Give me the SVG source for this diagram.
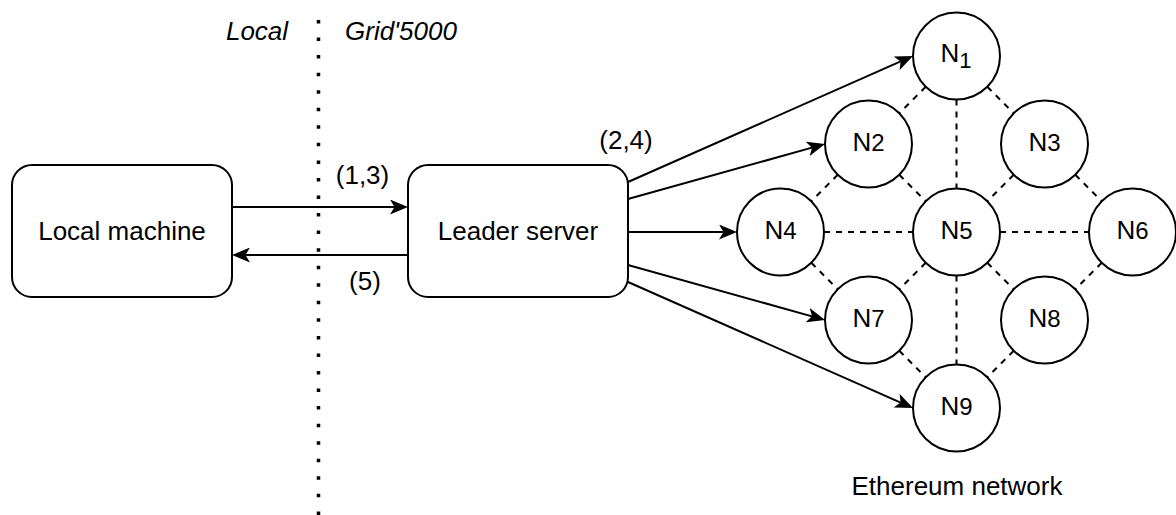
<svg xmlns="http://www.w3.org/2000/svg" width="1176" height="515" viewBox="0 0 1176 515">
<style>
text{font-family:"Liberation Sans",Arial,sans-serif;font-size:26px;fill:#000}
.it{font-style:italic}
.box{fill:#fff;stroke:#000;stroke-width:2}
.node{fill:#fff;stroke:#000;stroke-width:2}
.arrow{stroke:#000;stroke-width:2;fill:none;marker-end:url(#ah)}
.dash{stroke:#000;stroke-width:2;stroke-dasharray:6 6;fill:none}
.dot{stroke:#000;stroke-width:3.5;stroke-dasharray:3.5 14.05;fill:none}
.sub{font-size:24px}
</style>
<defs>
<marker id="ah" markerUnits="userSpaceOnUse" markerWidth="18" markerHeight="15" refX="4.5" refY="7.5" orient="auto" viewBox="0 0 18 15">
<path d="M0,0 L18,7.5 L0,15 L4.5,7.5 Z" fill="#000"/>
</marker>
</defs>
<rect width="1176" height="515" fill="#fff"/>
<g id="divider">
<line class="dot" x1="318.5" y1="20" x2="318.5" y2="515"/>
<text class="it" x="257" y="39.5" text-anchor="middle">Local</text>
<text class="it" x="345" y="39.5">Grid'5000</text>
</g>
<g id="connectors">
<line class="dash" x1="925.74" y1="86.76" x2="899.26" y2="113.24"/>
<line class="dash" x1="987.26" y1="86.76" x2="1013.74" y2="113.24"/>
<line class="dash" x1="956.5" y1="99.5" x2="956.5" y2="188.5"/>
<line class="dash" x1="837.74" y1="174.76" x2="811.26" y2="201.24"/>
<line class="dash" x1="899.26" y1="174.76" x2="925.74" y2="201.24"/>
<line class="dash" x1="1013.74" y1="174.76" x2="987.26" y2="201.24"/>
<line class="dash" x1="1075.26" y1="174.76" x2="1101.74" y2="201.24"/>
<line class="dash" x1="824" y1="232" x2="913" y2="232"/>
<line class="dash" x1="1000" y1="232" x2="1089" y2="232"/>
<line class="dash" x1="811.26" y1="262.76" x2="837.74" y2="289.24"/>
<line class="dash" x1="925.74" y1="262.76" x2="899.26" y2="289.24"/>
<line class="dash" x1="987.26" y1="262.76" x2="1013.74" y2="289.24"/>
<line class="dash" x1="1101.74" y1="262.76" x2="1075.26" y2="289.24"/>
<line class="dash" x1="956.5" y1="275.5" x2="956.5" y2="364.5"/>
<line class="dash" x1="899.26" y1="350.76" x2="925.74" y2="377.24"/>
<line class="dash" x1="1013.74" y1="350.76" x2="987.26" y2="377.24"/>
<line class="arrow" x1="232" y1="207" x2="394.5" y2="207"/>
<line class="arrow" x1="408" y1="255" x2="245.5" y2="255"/>
<line class="arrow" x1="628" y1="182" x2="900.65" y2="61.46"/>
<line class="arrow" x1="628" y1="199" x2="812" y2="147.63"/>
<line class="arrow" x1="628" y1="232" x2="723.5" y2="232"/>
<line class="arrow" x1="628" y1="265" x2="812" y2="316.37"/>
<line class="arrow" x1="628" y1="282" x2="900.65" y2="402.54"/>
<text x="362.5" y="184" text-anchor="middle">(1,3)</text>
<text x="365" y="290" text-anchor="middle">(5)</text>
<text x="626" y="149" text-anchor="middle">(2,4)</text>
</g>
<g id="local-machine">
<rect class="box" x="12" y="165" width="220" height="132" rx="20" ry="20"/>
<text x="122" y="239.5" text-anchor="middle">Local machine</text>
</g>
<g id="leader-server">
<rect class="box" x="408" y="165" width="220" height="132" rx="20" ry="20"/>
<text x="518" y="239.5" text-anchor="middle">Leader server</text>
</g>
<g id="n1"><circle class="node" cx="956.5" cy="56" r="43.5"/><text x="956" y="62" text-anchor="middle">N<tspan font-size="22" dy="6">1</tspan></text></g>
<g id="n2"><circle class="node" cx="868.5" cy="144" r="43.5"/><text x="868.5" y="151" text-anchor="middle">N<tspan class="sub">2</tspan></text></g>
<g id="n3"><circle class="node" cx="1044.5" cy="144" r="43.5"/><text x="1044.5" y="151" text-anchor="middle">N<tspan class="sub">3</tspan></text></g>
<g id="n4"><circle class="node" cx="780.5" cy="232" r="43.5"/><text x="780.5" y="239" text-anchor="middle">N<tspan class="sub">4</tspan></text></g>
<g id="n5"><circle class="node" cx="956.5" cy="232" r="43.5"/><text x="956.5" y="239" text-anchor="middle">N<tspan class="sub">5</tspan></text></g>
<g id="n6"><circle class="node" cx="1132.5" cy="232" r="43.5"/><text x="1132.5" y="239" text-anchor="middle">N<tspan class="sub">6</tspan></text></g>
<g id="n7"><circle class="node" cx="868.5" cy="320" r="43.5"/><text x="868.5" y="327" text-anchor="middle">N<tspan class="sub">7</tspan></text></g>
<g id="n8"><circle class="node" cx="1044.5" cy="320" r="43.5"/><text x="1044.5" y="327" text-anchor="middle">N<tspan class="sub">8</tspan></text></g>
<g id="n9"><circle class="node" cx="956.5" cy="408" r="43.5"/><text x="956.5" y="415" text-anchor="middle">N<tspan class="sub">9</tspan></text></g>
<g id="ethereum-label"><text x="957" y="494.5" text-anchor="middle">Ethereum network</text></g>
</svg>
